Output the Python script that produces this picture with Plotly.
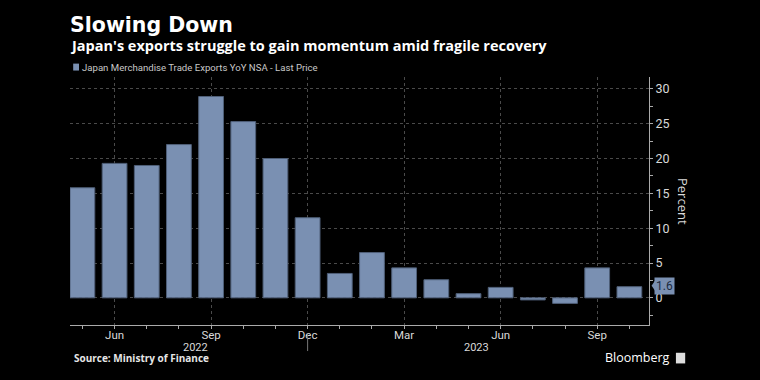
import plotly.graph_objects as go

# Data: Japan merchandise trade exports YoY (%), May 2022 - Oct 2023
months = ["May 2022", "Jun 2022", "Jul 2022", "Aug 2022", "Sep 2022", "Oct 2022",
          "Nov 2022", "Dec 2022", "Jan 2023", "Feb 2023", "Mar 2023", "Apr 2023",
          "May 2023", "Jun 2023", "Jul 2023", "Aug 2023", "Sep 2023", "Oct 2023"]
values = [15.8, 19.3, 19.0, 22.0, 28.9, 25.3, 20.0, 11.5, 3.5, 6.5, 4.3, 2.6,
          0.6, 1.5, -0.3, -0.8, 4.3, 1.6]
tick_labels = ["Jun", "Sep", "Dec", "Mar", "Jun", "Sep"]
tick_months = ["Jun 2022", "Sep 2022", "Dec 2022", "Mar 2023", "Jun 2023", "Sep 2023"]
year_labels = ["2022", "2023"]
y_ticks = [0, 5, 10, 15, 20, 25, 30]

x_idx = list(range(len(months)))
tick_idx = [months.index(m) for m in tick_months]

BAR = "#7a90b2"
BG = "#000000"
GRID = "#4a4a4a"
TXT = "#d9d9d9"
FONT = "Open Sans"
NARROW = "Roboto, sans-serif"

fig = go.Figure()
fig.add_trace(go.Bar(
    x=x_idx, y=values, width=0.77,
    marker=dict(color=BAR, line=dict(color="#4f5f78", width=1)),
    name="Japan Merchandise Trade Exports YoY NSA - Last Price",
    showlegend=False, hovertext=months,
))

fig.update_layout(
    width=760, height=380,
    paper_bgcolor=BG, plot_bgcolor=BG,
    margin=dict(l=70, r=111, t=77, b=55),
    font=dict(family=FONT, color=TXT, size=11),
    xaxis=dict(
        range=[-0.385, 17.61],
        tickmode="array", tickvals=tick_idx, ticktext=tick_labels,
        ticks="outside", ticklen=3, tickcolor="#aaaaaa",
        ticklabelstandoff=-4,
        minor=dict(tickmode="array", tickvals=x_idx, ticks="outside", ticklen=3,
                   tickcolor="#aaaaaa", showgrid=False),
        showline=True, linecolor="#aaaaaa", linewidth=1,
        showgrid=True, gridcolor=GRID, griddash="dot", gridwidth=1,
        zeroline=False,
        tickfont=dict(size=11.5, color=TXT, family=NARROW),
    ),
    yaxis=dict(
        side="right", range=[-3.9, 31.7],
        tickmode="array", tickvals=y_ticks,
        ticks="outside", ticklen=3, tickcolor="#aaaaaa",
        minor=dict(dtick=2.5, ticks="outside", ticklen=3, tickcolor="#aaaaaa", showgrid=False),
        showline=True, linecolor="#aaaaaa", linewidth=1,
        showgrid=True, gridcolor=GRID, griddash="dot", gridwidth=1,
        zeroline=False,
        tickfont=dict(size=12.5, color=TXT, family=NARROW),
    ),
)

# Titles
fig.add_annotation(text="<b>Slowing Down</b>", xref="paper", yref="paper", x=0, y=1,
                   xanchor="left", yanchor="bottom", yshift=38, xshift=-2,
                   showarrow=False, font=dict(size=20.5, color="#ffffff", family="DejaVu Sans"))
fig.add_annotation(text="<b>Japan's exports struggle to gain momentum amid fragile recovery</b>",
                   xref="paper", yref="paper", x=0, y=1, xanchor="left", yanchor="bottom",
                   yshift=20, xshift=-2, showarrow=False,
                   font=dict(size=14.5, color="#ffffff", family=FONT))
# Legend (square + label)
fig.add_shape(type="rect", xref="paper", yref="paper", x0=0.0055, x1=0.0155,
              y0=1.026, y1=1.054, fillcolor=BAR, line=dict(width=0))
fig.add_annotation(text="Japan Merchandise Trade Exports YoY NSA - Last Price",
                   xref="paper", yref="paper", x=0.0175, y=1.04, xanchor="left",
                   yanchor="middle", showarrow=False,
                   font=dict(size=9.6, color="#c8c8c8", family=NARROW))

# Axis title
fig.add_annotation(text="Percent", xref="paper", yref="paper", x=1, y=0.5,
                   xanchor="center", yanchor="middle", xshift=34, textangle=90,
                   showarrow=False, font=dict(size=13, color=TXT, family=FONT))

# Year labels
fig.add_annotation(text=year_labels[0], xref="x", yref="paper", x=3.5, y=0,
                   yshift=-22, yanchor="middle", showarrow=False,
                   font=dict(size=11, color=TXT, family=NARROW))
fig.add_annotation(text=year_labels[1], xref="x", yref="paper", x=12.25, y=0,
                   yshift=-22, yanchor="middle", showarrow=False,
                   font=dict(size=11, color=TXT, family=NARROW))
fig.add_shape(type="line", xref="x", yref="paper", x0=7, x1=7, y0=-0.035, y1=-0.105,
              line=dict(color="#777777", width=1))

# Last price label
last = values[-1]
fig.add_annotation(text=f"{last}", xref="paper", yref="y", x=1, y=last,
                   xanchor="left", yanchor="middle", xshift=5, yshift=1, showarrow=False,
                   bgcolor=BAR, borderpad=1,
                   font=dict(size=12, color="#1a2a40", family=NARROW))
fig.add_shape(type="path", xref="paper", yref="y",
              path=f"M 1.0045 {last+0.15} L 1.0105 {last+0.9} L 1.0105 {last-0.6} Z",
              fillcolor=BAR, line=dict(width=0))

# Source and branding
fig.add_annotation(text="<b>Source: Ministry of Finance</b>", xref="paper", yref="paper",
                   x=0, y=0, xanchor="left", yanchor="middle", yshift=-33, xshift=2,
                   showarrow=False, font=dict(size=10, color="#e6e6e6", family=FONT))
fig.add_annotation(text="Bloomberg", xref="paper", yref="paper", x=1, y=0,
                   xanchor="right", yanchor="middle", yshift=-32, xshift=23,
                   showarrow=False, font=dict(size=12.5, color="#ffffff", family=FONT))
fig.add_shape(type="rect", xref="paper", yref="paper", x0=1.0465, x1=1.0625,
              y0=-0.155, y1=-0.112, fillcolor="#dddddd", line=dict(width=0))

fig.write_html("out.html", config={"displayModeBar": False},
               post_script="document.body.style.margin='0';document.body.style.background='#000';")
